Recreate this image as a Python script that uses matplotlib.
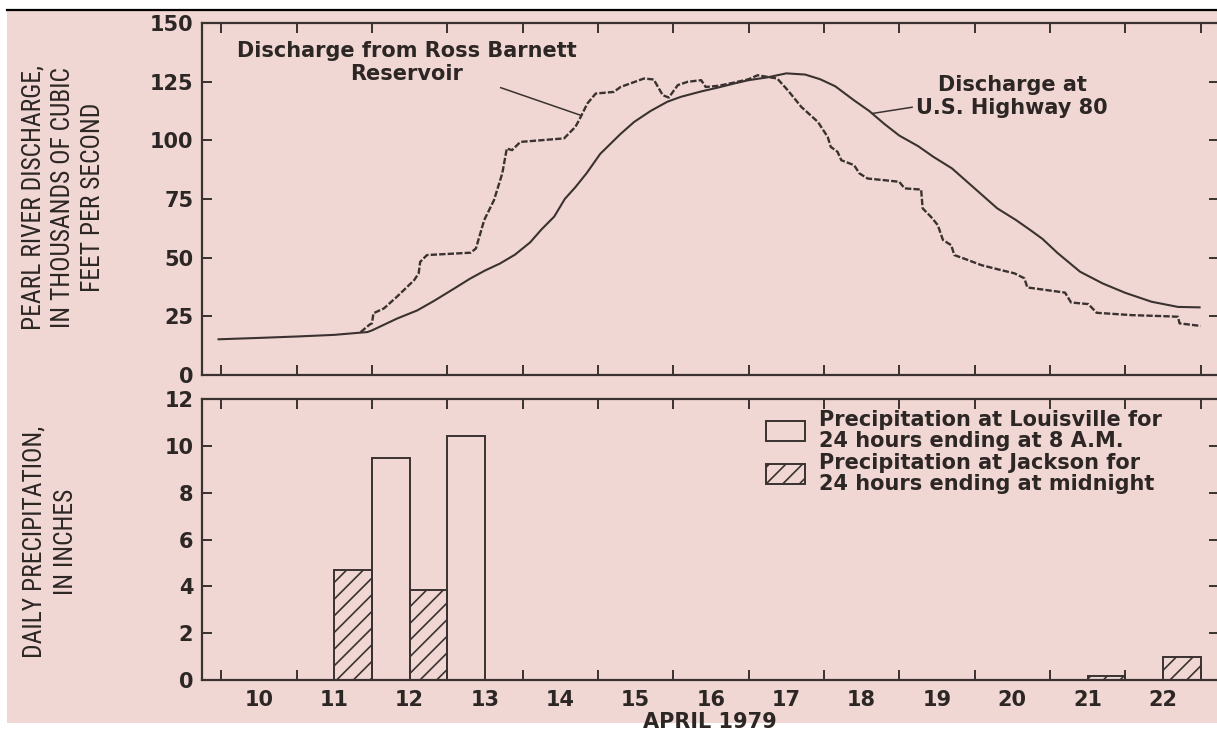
import numpy as np
import matplotlib
matplotlib.use("Agg")
import matplotlib.pyplot as plt
import matplotlib.font_manager as fm
from matplotlib.patches import Rectangle
from matplotlib.lines import Line2D

# ---------------- data ----------------
# Discharge at U.S. Highway 80 (thousands of cfs); x = day of April 1979 (midnight = integer)
hwy_days = [9.95, 10.5, 11.0, 11.5, 11.94, 12.0, 12.33, 12.6, 12.82, 13.1, 13.3, 13.5, 13.7,
            13.9, 14.1, 14.25, 14.42, 14.56, 14.7, 14.85, 15.03, 15.3, 15.48, 15.7, 15.92,
            16.1, 16.37, 16.6, 16.81, 17.0, 17.25, 17.5, 17.75, 17.95, 18.15, 18.4, 18.6,
            18.8, 19.0, 19.25, 19.45, 19.7, 20.0, 20.3, 20.55, 20.75, 20.9, 21.1, 21.4,
            21.7, 22.0, 22.35, 22.7, 23.0]
hwy_q = [15.2, 15.8, 16.4, 17.1, 18.3, 19.0, 24.0, 27.5, 31.5, 37.0, 41.0, 44.5, 47.5,
         51.3, 56.5, 62.0, 67.5, 75.0, 80.0, 86.0, 94.2, 102.7, 107.8, 112.5, 116.4,
         118.5, 120.8, 122.5, 124.2, 125.6, 126.8, 128.5, 128.0, 126.0, 123.0, 117.0, 112.5,
         107.0, 102.0, 97.5, 93.0, 88.0, 79.5, 71.0, 66.0, 61.5, 58.0, 52.0, 44.0,
         39.0, 35.0, 31.2, 29.0, 28.8]

# Discharge from Ross Barnett Reservoir
ross_days = [11.85, 11.97, 12.00, 12.02, 12.16, 12.33, 12.56, 12.62, 12.64, 12.73, 13.31, 13.38,
             13.49, 13.62, 13.73, 13.79, 13.86, 13.97, 14.55, 14.70, 14.75, 14.86, 14.97, 15.21,
             15.30, 15.61, 15.74, 15.86, 15.94, 16.06, 16.19, 16.37, 16.43, 16.60, 16.81, 17.00,
             17.12, 17.25, 17.38, 17.52, 17.70, 17.92, 18.05, 18.09, 18.18, 18.23, 18.40, 18.47,
             18.58, 18.89, 19.00, 19.07, 19.29, 19.31, 19.42, 19.51, 19.58, 19.69, 19.73, 19.91,
             20.09, 20.35, 20.53, 20.66, 20.70, 21.20, 21.28, 21.51, 21.62, 22.09, 22.57, 22.70,
             22.72, 23.00]
ross_q = [18.3, 21.5, 22.0, 26.3, 28.4, 33.3, 40.4, 43.3, 48.2, 51.1, 52.1, 53.9,
          66.0, 74.5, 85.9, 96.5, 95.8, 99.3, 100.8, 105.7, 108.6, 115.7, 119.9, 120.6,
          122.7, 126.3, 125.9, 119.2, 118.2, 123.5, 124.9, 125.6, 122.7, 123.2, 124.6, 126.0,
          127.7, 127.0, 126.3, 121.3, 114.2, 107.8, 101.4, 97.2, 95.1, 91.5, 89.4, 85.9,
          83.7, 82.7, 82.3, 79.5, 79.0, 71.0, 67.4, 63.9, 57.5, 55.3, 51.1, 49.0,
          46.8, 44.7, 43.3, 41.2, 37.3, 35.1, 30.9, 30.2, 26.5, 25.5, 25.0, 24.8,
          22.0, 20.9]

# Daily precipitation (inches)
louisville_days = [12, 13]
louisville_in = [9.5, 10.4]
jackson_days = [11, 12, 21, 22]
jackson_in = [4.7, 3.85, 0.15, 1.0]

day_labels = ["10", "11", "12", "13", "14", "15", "16", "17", "18", "19", "20", "21", "22"]
q_ticks = [0, 25, 50, 75, 100, 125, 150]
p_ticks = [0, 2, 4, 6, 8, 10, 12]

# ---------------- style ----------------
W, H = 1217, 732
BG = "#f1d7d3"
DARK = "#3a3230"
TXT = "#2c2624"
FS = 15

plt.rcParams["font.family"] = ["DejaVu Sans"]
plt.rcParams["font.weight"] = "bold"
plt.rcParams["hatch.linewidth"] = 1.2

avail = {f.name for f in fm.fontManager.ttflist}
narrow = None
for cand in ["Liberation Sans Narrow", "Roboto Condensed", "Open Sans Condensed"]:
    if cand in avail:
        narrow = cand
        break
if narrow is None:
    ylab_kw = dict(fontfamily="DejaVu Sans", fontstretch="condensed", fontsize=15.5)
else:
    ylab_kw = dict(fontfamily=narrow, fontsize=18.4)


def fx(px):
    return px / W


def fy(py):
    return 1 - py / H


fig = plt.figure(figsize=(W / 100, H / 100), dpi=100, facecolor="white")
# paper background and scan border
fig.patches.append(Rectangle((fx(7), fy(723)), 1 - fx(7), fy(11) - fy(723),
                             transform=fig.transFigure, facecolor=BG, edgecolor="none",
                             zorder=-10))
fig.lines.append(Line2D([fx(7), 1.0], [fy(10), fy(10)], transform=fig.transFigure,
                        color="black", lw=1.6, zorder=-5))

LEFT, RIGHT = 201.7, 1219.0
ax1 = fig.add_axes([fx(LEFT), fy(375), fx(RIGHT) - fx(LEFT), fy(22.9) - fy(375)])
ax2 = fig.add_axes([fx(LEFT), fy(680), fx(RIGHT) - fx(LEFT), fy(399) - fy(680)])

XMIN, XMAX = 9.740, 23.244
for ax in (ax1, ax2):
    ax.set_facecolor("none")
    ax.set_xlim(XMIN, XMAX)
    ax.set_xticks(np.arange(10, 24))
    ax.tick_params(axis="both", which="major", direction="in", length=7, width=1.4,
                   top=True, right=True, color=DARK, labelcolor=TXT, labelsize=FS, pad=6)
    ax.tick_params(axis="x", which="major", labelbottom=False)
    for s in ax.spines.values():
        s.set_linewidth(1.6)
        s.set_color(DARK)

# ---------------- top panel ----------------
ax1.set_ylim(0, 150)
ax1.set_yticks(q_ticks)
ax1.plot(hwy_days, hwy_q, color=DARK, lw=1.5, solid_capstyle="butt")
ax1.plot(ross_days, ross_q, color=DARK, lw=1.7, linestyle=(0, (2.7, 0.9)))

x_res = 14.78
ax1.annotate("Discharge from Ross Barnett\nReservoir",
             xy=(x_res, np.interp(x_res, ross_days, ross_q)),
             xytext=(12.46, 133.2), ha="center", va="center", multialignment="center",
             fontsize=FS, color=TXT,
             arrowprops=dict(arrowstyle="-", color=DARK, lw=1.1, relpos=(0.69, 0.15),
                             shrinkA=2, shrinkB=0))
x_hwy = 18.64
ax1.annotate("Discharge at\nU.S. Highway 80",
             xy=(x_hwy, np.interp(x_hwy, hwy_days, hwy_q)),
             xytext=(20.50, 118.6), ha="center", va="center", multialignment="center",
             fontsize=FS, color=TXT,
             arrowprops=dict(arrowstyle="-", color=DARK, lw=1.1, relpos=(0.0, 0.27),
                             shrinkA=1, shrinkB=0))

ax1.set_ylabel("PEARL RIVER DISCHARGE,\nIN THOUSANDS OF CUBIC\nFEET PER SECOND",
               fontweight="normal", color=TXT, linespacing=1.3, va="center", ha="center",
               multialignment="center", **ylab_kw)
ax1.yaxis.set_label_coords((63.5 - LEFT) / (RIGHT - LEFT), 0.505)

# ---------------- bottom panel ----------------
ax2.set_ylim(0, 12)
ax2.set_yticks(p_ticks)
jack = ax2.bar(np.array(jackson_days) + 0.5, jackson_in, width=0.5, align="edge",
               facecolor="none", edgecolor=DARK, hatch="//", linewidth=1.4,
               label="Precipitation at Jackson for\n24 hours ending at midnight")
louis = ax2.bar(np.array(louisville_days, dtype=float), louisville_in, width=0.5, align="edge",
                facecolor="none", edgecolor=DARK, linewidth=1.4,
                label="Precipitation at Louisville for\n24 hours ending at 8 A.M.")

ax2.set_xticks(np.arange(10, 23) + 0.5, minor=True)
ax2.set_xticklabels(day_labels, minor=True)
ax2.tick_params(axis="x", which="minor", length=0, pad=7, labelsize=FS, labelcolor=TXT,
                bottom=True, top=False)

leg = ax2.legend(handles=[louis, jack], loc="upper left",
                 bbox_to_anchor=((765.9 - LEFT) / (RIGHT - LEFT), (680 - 410) / (680 - 399)),
                 frameon=False, fontsize=FS, handlelength=1.9, handleheight=1.1,
                 handletextpad=0.65, labelspacing=0.1, borderpad=0, borderaxespad=0)
for t in leg.get_texts():
    t.set_color(TXT)
    t.set_linespacing(1.05)

ax2.set_ylabel("DAILY PRECIPITATION,\nIN INCHES", fontweight="normal", color=TXT,
               linespacing=1.4, va="center", ha="center", multialignment="center", **ylab_kw)
ax2.yaxis.set_label_coords((49.8 - LEFT) / (RIGHT - LEFT), 0.49)

ax2.set_xlabel("APRIL 1979", fontsize=FS, fontweight="bold", color=TXT, va="center")
ax2.xaxis.set_label_coords(0.5, -(722 - 680) / (680 - 399))

fig.savefig("out.png", dpi=100, facecolor=fig.get_facecolor())
